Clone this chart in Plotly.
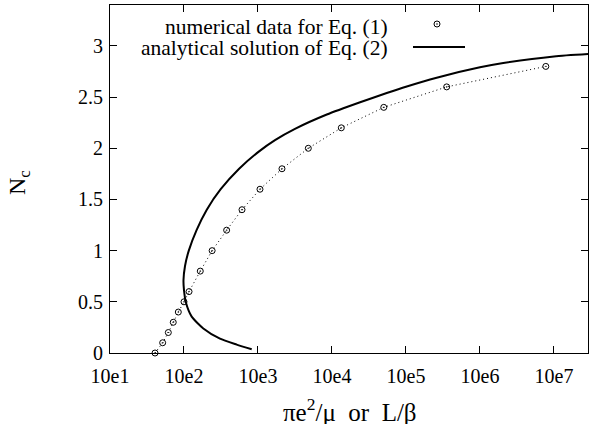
import plotly.graph_objects as go

# numerical data for Eq. (1)
num_x = [40.6, 51.5, 61.4, 71.6, 83.8, 100, 117, 166, 240, 377, 608, 1064,
         2109, 4786, 13366, 50119, 354813, 7762471]
num_y = [0, 0.1, 0.2, 0.3, 0.4, 0.5, 0.6, 0.8, 1.0, 1.2, 1.4, 1.6,
         1.8, 2.0, 2.2, 2.4, 2.6, 2.8]

# analytical solution of Eq. (2)
ana_x = [822.2, 515.2, 306.2, 182.4, 127.1, 106.4, 100.0, 98.4, 103.2, 116.1,
         147.9, 203.2, 313.3, 555.9, 1035, 1698, 3162, 8511, 23988, 54954,
         100000, 260016, 1000000, 2065380, 10000000, 29107171]
ana_y = [0.036, 0.082, 0.14, 0.24, 0.355, 0.49, 0.615, 0.71, 0.85, 1.0,
         1.2, 1.4, 1.6, 1.8, 1.97, 2.08, 2.19, 2.33, 2.45, 2.54,
         2.602, 2.69, 2.791, 2.833, 2.898, 2.921]

tick_vals = [1e1, 1e2, 1e3, 1e4, 1e5, 1e6, 1e7]
tick_text = ["10e1", "10e2", "10e3", "10e4", "10e5", "10e6", "10e7"]
y_ticks = [0, 0.5, 1, 1.5, 2, 2.5, 3]
y_text = ["0", "0.5", "1", "1.5", "2", "2.5", "3"]

legend_labels = ["numerical data for Eq. (1)", "analytical solution of Eq. (2)"]
x_title = "πe<sup>2</sup>/μ\u00a0\u00a0or\u00a0\u00a0L/β"
y_title = "N<sub>c</sub>"

FONT = "Liberation Serif"
W, H = 589, 424
L, R, T, B = 110, 1, 5, 71
pw, ph = W - L - R, H - T - B


def px(xp):
    return (xp - L) / pw


def py(yp):
    return (H - B - yp) / ph


fig = go.Figure()
fig.add_trace(go.Scatter(
    x=num_x, y=num_y, mode="lines+markers",
    line=dict(color="black", width=1, dash="1px,3px"),
    marker=dict(symbol="circle-open-dot", size=6, color="black",
                line=dict(width=1, color="black")),
    cliponaxis=False, showlegend=False))
fig.add_trace(go.Scatter(
    x=ana_x, y=ana_y, mode="lines",
    line=dict(color="black", width=2, shape="spline", smoothing=0.6),
    showlegend=False))

# legend samples on an overlay paper-like axis
fig.add_trace(go.Scatter(
    x=[px(437)], y=[py(24)], mode="markers", xaxis="x2", yaxis="y2",
    marker=dict(symbol="circle-open-dot", size=6, color="black",
                line=dict(width=1, color="black")),
    showlegend=False, hoverinfo="skip"))
fig.add_trace(go.Scatter(
    x=[px(413), px(465)], y=[py(47), py(47)], mode="lines", xaxis="x2", yaxis="y2",
    line=dict(color="black", width=2), showlegend=False, hoverinfo="skip"))

fig.update_layout(
    width=W, height=H,
    margin=dict(l=L, r=R, t=T, b=B),
    paper_bgcolor="white", plot_bgcolor="white",
    font=dict(family=FONT, size=20, color="black"),
    xaxis=dict(type="log", range=[1, 7.46], tickvals=tick_vals, ticktext=tick_text,
               ticks="inside", ticklen=7, tickcolor="black", tickwidth=1,
               showline=True, linecolor="black", linewidth=1, mirror="ticks",
               showgrid=False, zeroline=False, automargin=False,
               ticklabelstandoff=5,
               tickfont=dict(size=20, family=FONT)),
    yaxis=dict(range=[0, 3.4], tickvals=y_ticks, ticktext=y_text,
               ticks="inside", ticklen=7, tickcolor="black", tickwidth=1,
               showline=True, linecolor="black", linewidth=1, mirror="ticks",
               showgrid=False, zeroline=False, automargin=False,
               ticklabelstandoff=2,
               tickfont=dict(size=20, family=FONT)),
    xaxis2=dict(overlaying="x", range=[0, 1], visible=False, fixedrange=True),
    yaxis2=dict(overlaying="y", range=[0, 1], visible=False, fixedrange=True),
    annotations=[
        dict(text=legend_labels[0], x=px(390), y=py(27), xref="paper", yref="paper",
             xanchor="right", yanchor="middle", showarrow=False,
             font=dict(size=21.5, family=FONT)),
        dict(text=legend_labels[1], x=px(390), y=py(48), xref="paper", yref="paper",
             xanchor="right", yanchor="middle", showarrow=False,
             font=dict(size=21.5, family=FONT)),
        dict(text=x_title, x=px(350), y=py(410), xref="paper", yref="paper",
             xanchor="center", yanchor="middle", showarrow=False,
             font=dict(size=25, family=FONT)),
        dict(text=y_title, x=px(19), y=py(183), xref="paper", yref="paper",
             xanchor="center", yanchor="middle", showarrow=False, textangle=-90,
             font=dict(size=24, family=FONT)),
    ],
)

fig.write_html("out.html", config={"displayModeBar": False})

# remove default page margin so the figure sits at the window's top-left
with open("out.html", "r", encoding="utf-8") as f:
    html = f.read()
html = html.replace("<body>", '<body style="margin:0;padding:0;">', 1)
with open("out.html", "w", encoding="utf-8") as f:
    f.write(html)
